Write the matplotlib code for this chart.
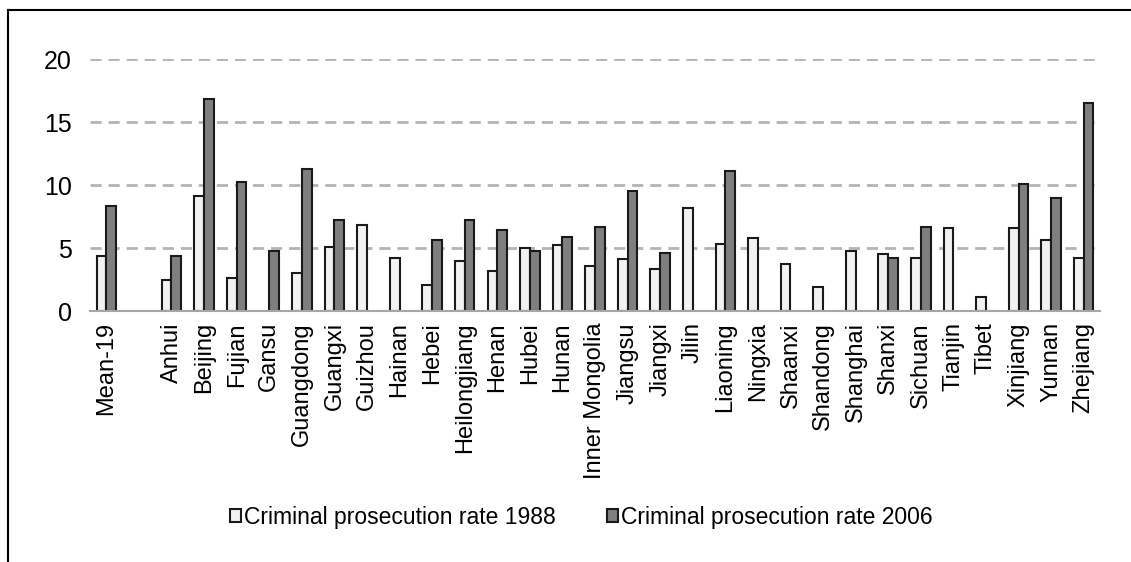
import numpy as np
import matplotlib.pyplot as plt
from matplotlib.lines import Line2D

# провінції, порожній слот після середнього значення
provinces = ['Mean-19', '', 'Anhui', 'Beijing', 'Fujian', 'Gansu', 'Guangdong', 'Guangxi',
             'Guizhou', 'Hainan', 'Hebei', 'Heilongjiang', 'Henan', 'Hubei', 'Hunan',
             'Inner Mongolia', 'Jiangsu', 'Jiangxi', 'Jilin', 'Liaoning', 'Ningxia',
             'Shaanxi', 'Shandong', 'Shanghai', 'Shanxi', 'Sichuan', 'Tianjin', 'Tibet',
             'Xinjiang', 'Yunnan', 'Zhejiang']

nan = np.nan
rate_1988 = [4.4, nan, 2.5, 9.1, 2.6, nan, 3.0, 5.1,
             6.8, 4.2, 2.1, 4.0, 3.2, 5.0, 5.2,
             3.6, 4.1, 3.3, 8.2, 5.3, 5.8,
             3.7, 1.9, 4.8, 4.5, 4.2, 6.6, 1.1,
             6.6, 5.6, 4.2]
rate_2006 = [8.3, nan, 4.4, 16.8, 10.2, 4.8, 11.3, 7.2,
             nan, nan, 5.6, 7.2, 6.4, 4.8, 5.9,
             6.7, 9.5, 4.6, nan, 11.1, nan,
             nan, nan, nan, 4.2, 6.7, nan, nan,
             10.1, 9.0, 16.5]

plt.rcParams['font.family'] = ['Liberation Sans', 'DejaVu Sans']

x = np.arange(len(provinces))
w = 0.3

fig = plt.figure(figsize=(11.31, 5.62), dpi=100)
ax = fig.add_axes([0.0796, 0.4466, 0.893, 0.4484])

ax.bar(x - w/2, rate_1988, w, color='#f2f2f2', edgecolor='#1a1a1a', linewidth=1.5,
       label='Criminal prosecution rate 1988', zorder=3)
ax.bar(x + w/2, rate_2006, w, color='#7f7f7f', edgecolor='#1a1a1a', linewidth=1.5,
       label='Criminal prosecution rate 2006', zorder=3)

ax.set_xlim(-0.5, len(provinces) - 0.5)
ax.set_ylim(0, 20)
ax.set_yticks([0, 5, 10, 15, 20])
ax.set_xticks(x)
ax.set_xticklabels(provinces, rotation=90, fontsize=17)
ax.tick_params(axis='y', labelsize=18, length=0, pad=13)
ax.tick_params(axis='x', length=0, pad=8)

for v in [5, 10, 15, 20]:
    ax.axhline(v, color='#b4b4b4', linewidth=2, linestyle=(0, (4, 2.5)), zorder=1)

for s in ['top', 'right', 'left']:
    ax.spines[s].set_visible(False)
ax.spines['bottom'].set_color('#a6a6a6')
ax.spines['bottom'].set_linewidth(1.5)
ax.spines['bottom'].set_zorder(4)

fig.legend(loc='center', bbox_to_anchor=(0.514, 0.08), ncol=2, frameon=False,
           fontsize=16.5, handlelength=0.48, handleheight=0.48, handletextpad=0.13,
           columnspacing=2.2)

# рамка зверху і зліва
fig.add_artist(Line2D([8/1131, 1], [1 - 10/562, 1 - 10/562], color='black', linewidth=1.5))
fig.add_artist(Line2D([8/1131, 8/1131], [0, 1 - 10/562], color='black', linewidth=1.5))

fig.savefig('out.png', dpi=100)
